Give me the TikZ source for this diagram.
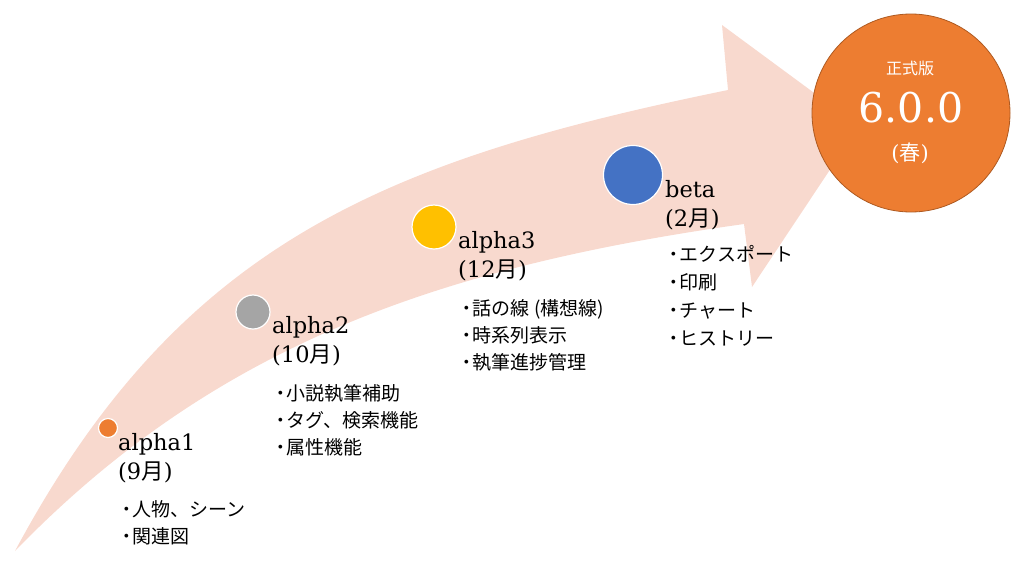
\documentclass[tikz,border=0pt]{standalone}
\usepackage{fontspec}
\newfontfamily\jp{Noto Sans CJK JP}
\newfontfamily\lat{DejaVu Serif}
\usetikzlibrary{positioning}
\definecolor{arrowpink}{RGB}{248,217,206}
\definecolor{relorange}{RGB}{237,125,49}
\definecolor{relgray}{RGB}{165,165,165}
\definecolor{relgold}{RGB}{255,192,0}
\definecolor{relblue}{RGB}{68,114,196}
\definecolor{reledge}{RGB}{174,90,33}
\newcommand{\itm}{{\rmfamily\fontsize{14}{14}\selectfont\raisebox{3.5pt}{\textbullet}}\hspace{1pt}}

\begin{document}
\begin{tikzpicture}[x=1pt,y=-1pt,
  dot/.style={circle,draw=white,line width=1.2pt,inner sep=0pt},
  rel/.style={anchor=north west,inner sep=0pt,align=left,font=\lat\fontsize{22.5}{29}\selectfont},
  feat/.style={anchor=north west,inner sep=0pt,align=left,font=\jp\fontsize{19}{27}\selectfont},
  fin/.style={text=white,inner sep=0pt}]
  \useasboundingbox (0,0) rectangle (1025,587);

  % ---------- big arrow ----------
  \fill[arrowpink] (15,551) .. controls (180,243) and (385,160) .. (728,90)
    -- (722,25) -- (859,126) -- (752,287) -- (744,224)
    .. controls (431,268) and (211,349) .. (15,551) -- cycle;

  % ---------- milestones ----------
  \node[dot,fill=relorange,minimum size=19pt] (a1) at (108,428) {};
  \node[rel] (a1lab) at (118,433) {alpha1\\(9{\jp 月})};
  \node[feat,below=17pt of a1lab.south west,anchor=north west,xshift=3pt] (a1list)
    {\itm 人物、シーン\\\itm 関連図};

  \node[dot,fill=relgray,minimum size=34pt] (a2) at (253,312) {};
  \node[rel] (a2lab) at (272,316) {alpha2\\(10{\jp 月})};
  \node[feat,below=18pt of a2lab.south west,anchor=north west,xshift=3pt] (a2list)
    {\itm 小説執筆補助\\\itm タグ、検索機能\\\itm 属性機能};

  \node[dot,fill=relgold,minimum size=44pt] (a3) at (434,227) {};
  \node[rel] (a3lab) at (458,231) {alpha3\\(12{\jp 月})};
  \node[feat,below=18pt of a3lab.south west,anchor=north west,xshift=3pt] (a3list)
    {\itm 話の線 (構想線)\\\itm 時系列表示\\\itm 執筆進捗管理};

  \node[dot,fill=relblue,minimum size=59pt] (bt) at (633,175) {};
  \node[rel] (btlab) at (665,180) {beta\\(2{\jp 月})};
  \node[feat,below=15pt of btlab.south west,anchor=north west,xshift=3pt,
        font=\jp\fontsize{19}{28}\selectfont] (btlist)
    {\itm エクスポート\\\itm 印刷\\\itm チャート\\\itm ヒストリー};

  % ---------- release ----------
  \node[circle,fill=relorange,draw=reledge,line width=0.8pt,minimum size=198pt] (final) at (911,113) {};
  \node[fin,font=\jp\fontsize{16}{16}\selectfont] (finname) at (910,68) {正式版};
  \node[fin,font=\lat\fontsize{41}{41}\selectfont] (finver) at (911,108) {6.0.0};
  \node[fin,font=\lat\fontsize{21}{21}\selectfont] (finseason) at (910,153) {({\jp 春})};
\end{tikzpicture}
\end{document}
